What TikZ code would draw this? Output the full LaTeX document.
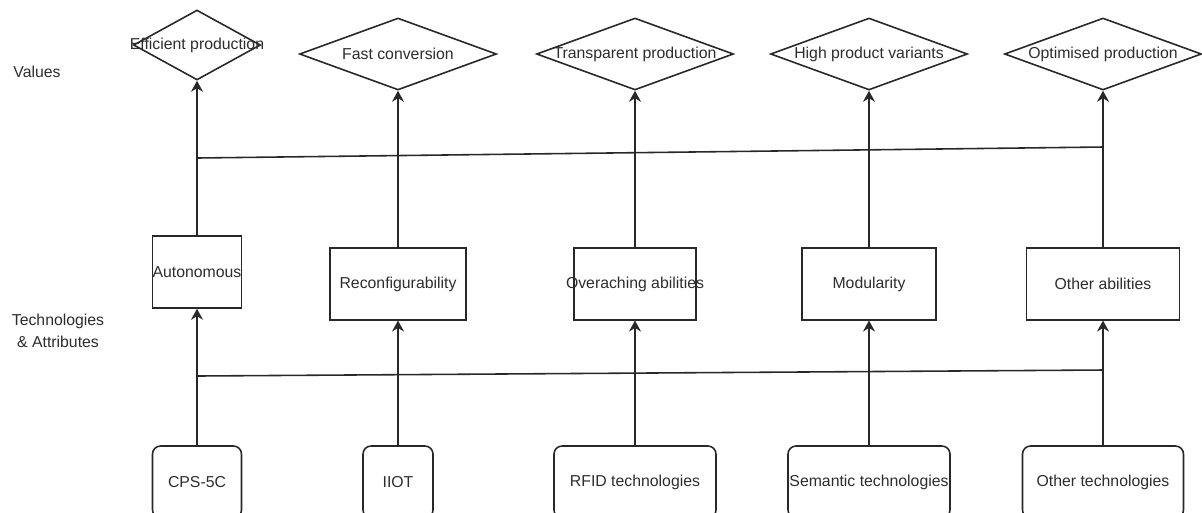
\documentclass[tikz,border=0pt]{standalone}
\usepackage{fontspec}
\setmainfont{Liberation Sans}
\usetikzlibrary{arrows.meta,positioning,shapes.geometric}
\definecolor{lineg}{RGB}{40,40,40}
\definecolor{textg}{RGB}{45,45,45}
\newcommand{\ovtext}[1]{\makebox[0pt]{#1}}

\begin{document}
\begin{tikzpicture}[
  x=0.02cm,y=-0.02cm,
  every node/.style={font=\fontsize{9}{12.5}\selectfont,text=textg},
  val/.style={draw=lineg,diamond,inner sep=0pt,minimum width=3.94cm,minimum height=1.44cm,line width=0.9pt},
  attr/.style={draw=lineg,inner sep=0pt,minimum height=1.43cm,line width=0.9pt},
  tech/.style={draw=lineg,rounded corners=0.16cm,inner sep=0pt,minimum height=1.44cm,line width=0.9pt},
  arr/.style={-{Stealth[length=2.2mm,width=2.4mm]},line width=0.9pt,lineg},
  link/.style={line width=0.9pt,lineg}
]
\useasboundingbox (0,0) rectangle (1202,512);
\clip (0,0) rectangle (1202,512);

% Layers
\node (values) at (37,72) {Values};
\node[align=center] (layer) at (58,331) {Technologies\\\& Attributes};

% Values
\node[val,minimum width=2.54cm,minimum height=1.4cm] (v1) at (197,45) {\ovtext{Efficient production}};
\node[val] (v2) at (398,54) {\ovtext{Fast conversion}};
\node[val] (v3) at (635,54) {\ovtext{Transparent production}};
\node[val] (v4) at (869,54) {\ovtext{High product variants}};
\node[val] (v5) at (1103,54) {\ovtext{Optimised production}};

% Attributes
\node[attr,minimum width=1.78cm,minimum height=1.44cm] (a1) at (197,272) {\ovtext{Autonomous}};
\node[attr,minimum width=2.72cm] (a2) at (398,284) {Reconfigurability};
\node[attr,minimum width=2.44cm] (a3) at (635,284) {\ovtext{Overaching abilities}};
\node[attr,minimum width=2.68cm] (a4) at (869,284) {Modularity};
\node[attr,minimum width=3.06cm] (a5) at (1103,284) {Other abilities};

% Technologies
\node[tech,minimum width=1.78cm] (t1) at (197,482) {CPS-5C};
\node[tech,minimum width=1.4cm] (t2) at (398,482) {IIOT};
\node[tech,minimum width=3.24cm] (t3) at (635,482) {RFID technologies};
\node[tech,minimum width=3.24cm] (t4) at (869,482) {Semantic technologies};
\node[tech,minimum width=3.22cm] (t5) at (1103,482) {Other technologies};

\foreach \i in {1,...,5} {
  \draw[arr] (t\i) -- (a\i);
  \draw[arr] (a\i) -- (v\i);
}

% Cross links
\coordinate (u1) at (197,158);
\coordinate (u5) at (1103,147);
\coordinate (l1) at (197,376);
\coordinate (l5) at (1103,370);
\draw[link] (u1) -- (u5);
\draw[link] (l1) -- (l5);
\end{tikzpicture}
\end{document}
